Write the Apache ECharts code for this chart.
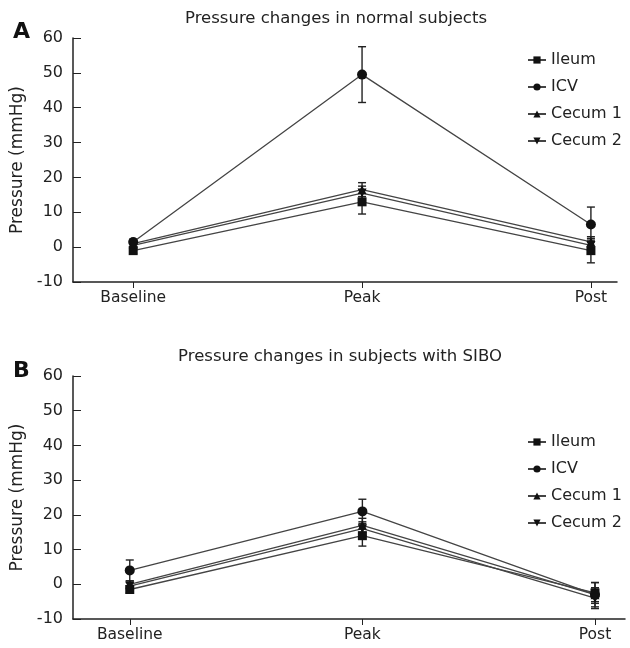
<!DOCTYPE html>
<html>
<head>
<meta charset="utf-8">
<script src="https://cdn.jsdelivr.net/npm/echarts@6/dist/echarts.min.js"></script>
<style>
  html, body { margin: 0; padding: 0; background: #fff; }
  #chart { width: 630px; height: 648px; }
</style>
</head>
<body>
<div id="chart"></div>
<script>
// categories / tick labels
var categories = ['Baseline', 'Peak', 'Post'];
var yTicks = [-10, 0, 10, 20, 30, 40, 50, 60];
var seriesNames = ['Ileum', 'ICV', 'Cecum 1', 'Cecum 2'];

// panel A - normal subjects (mean, error)
var ileumA = [-1, 13, -1];
var icvA = [1.5, 49.5, 6.5];
var cecum1A = [1, 16.5, 1.5];
var cecum2A = [0.5, 15.5, 0.5];
var ileumAErr = [0.8, 3.5, 3.5];
var icvAErr = [0.8, 8, 5];
var cecum1AErr = [0.8, 2, 1.5];
var cecum2AErr = [0.8, 2, 1.5];

// panel B - subjects with SIBO
var ileumB = [-1.5, 14, -2.5];
var icvB = [4, 21, -3];
var cecum1B = [0, 17, -3];
var cecum2B = [-0.5, 16, -4];
var ileumBErr = [1, 3, 3];
var icvBErr = [3, 3.5, 3.5];
var cecum1BErr = [1, 2, 2];
var cecum2BErr = [1, 2, 3];

var font = 'DejaVu Sans';
var symbols = ['rect', 'circle', 'triangle', 'triangle'];
var rotates = [0, 0, 0, 180];

var chart = echarts.init(document.getElementById('chart'));

function makeXAxis(gridIndex, min, max) {
  return {
    type: 'value', gridIndex: gridIndex, min: min, max: max,
    splitLine: { show: false },
    axisLine: { onZero: false, lineStyle: { color: '#222', width: 1.5 } },
    axisTick: { show: true, customValues: [0, 1, 2], length: 6, lineStyle: { color: '#222' } },
    axisLabel: {
      customValues: [0, 1, 2], margin: 8, color: '#222', fontFamily: font, fontSize: 15.5,
      formatter: function (v) { return categories[Math.round(v)]; }
    }
  };
}

function makeYAxis(gridIndex) {
  return {
    type: 'value', gridIndex: gridIndex, min: yTicks[0], max: yTicks[yTicks.length - 1], interval: 10,
    name: 'Pressure (mmHg)', nameLocation: 'middle', nameGap: 44,
    nameTextStyle: { fontFamily: font, fontSize: 17, color: '#222' },
    splitLine: { show: false },
    axisLine: { show: true, onZero: false, lineStyle: { color: '#222', width: 1.5 } },
    axisTick: { show: true, inside: true, length: 8, lineStyle: { color: '#222' } },
    axisLabel: { margin: 10, color: '#222', fontFamily: font, fontSize: 16 }
  };
}

function toPoints(vals) {
  return vals.map(function (v, i) { return [i, v]; });
}

function toErr(vals, errs) {
  return vals.map(function (v, i) { return [i, v - errs[i], v + errs[i]]; });
}

function errSeries(idx, vals, errs) {
  return {
    type: 'custom', xAxisIndex: idx, yAxisIndex: idx, silent: true, z: 1,
    data: toErr(vals, errs),
    renderItem: function (params, api) {
      var lo = api.coord([api.value(0), api.value(1)]);
      var hi = api.coord([api.value(0), api.value(2)]);
      var w = 4;
      var st = { stroke: '#222', lineWidth: 1.4 };
      return {
        type: 'group',
        children: [
          { type: 'line', shape: { x1: lo[0], y1: lo[1], x2: hi[0], y2: hi[1] }, style: st },
          { type: 'line', shape: { x1: lo[0] - w, y1: lo[1], x2: lo[0] + w, y2: lo[1] }, style: st },
          { type: 'line', shape: { x1: hi[0] - w, y1: hi[1], x2: hi[0] + w, y2: hi[1] }, style: st }
        ]
      };
    }
  };
}

function lineSeries(idx, k, vals) {
  return {
    name: seriesNames[k], type: 'line', xAxisIndex: idx, yAxisIndex: idx, z: 3,
    data: toPoints(vals),
    symbol: symbols[k], symbolRotate: rotates[k], symbolSize: k === 1 ? 10 : 9,
    itemStyle: { color: '#111' },
    lineStyle: { color: '#444', width: 1.3 }
  };
}

var panelA = [[ileumA, ileumAErr], [icvA, icvAErr], [cecum1A, cecum1AErr], [cecum2A, cecum2AErr]];
var panelB = [[ileumB, ileumBErr], [icvB, icvBErr], [cecum1B, cecum1BErr], [cecum2B, cecum2BErr]];

var series = [];
[panelA, panelB].forEach(function (panel, idx) {
  panel.forEach(function (p) { series.push(errSeries(idx, p[0], p[1])); });
  panel.forEach(function (p, k) { series.push(lineSeries(idx, k, p[0])); });
});

function makeLegend(top) {
  return {
    data: seriesNames, orient: 'vertical', left: 522, top: top, itemGap: 11,
    itemWidth: 18, itemHeight: 9, selectedMode: false,
    textStyle: { fontFamily: font, fontSize: 16, color: '#222' }
  };
}

chart.setOption({
  animation: false,
  backgroundColor: '#fff',
  title: [
    { text: 'Pressure changes in normal subjects', left: 331, top: 5, textAlign: 'center',
      textStyle: { fontFamily: font, fontSize: 16.5, fontWeight: 'normal', color: '#222' } },
    { text: 'Pressure changes in subjects with SIBO', left: 335, top: 343, textAlign: 'center',
      textStyle: { fontFamily: font, fontSize: 16.5, fontWeight: 'normal', color: '#222' } },
    { text: 'A', left: 8, top: 16, textStyle: { fontFamily: font, fontSize: 22, fontWeight: 'bold', color: '#111' } },
    { text: 'B', left: 8, top: 355, textStyle: { fontFamily: font, fontSize: 22, fontWeight: 'bold', color: '#111' } }
  ],
  legend: [makeLegend(47), makeLegend(429)],
  grid: [
    { left: 73, top: 38, width: 544, height: 244 },
    { left: 73, top: 376, width: 552, height: 243 }
  ],
  xAxis: [makeXAxis(0, -0.263, 2.114), makeXAxis(1, -0.244, 2.129)],
  yAxis: [makeYAxis(0), makeYAxis(1)],
  series: series
});
</script>
</body>
</html>
